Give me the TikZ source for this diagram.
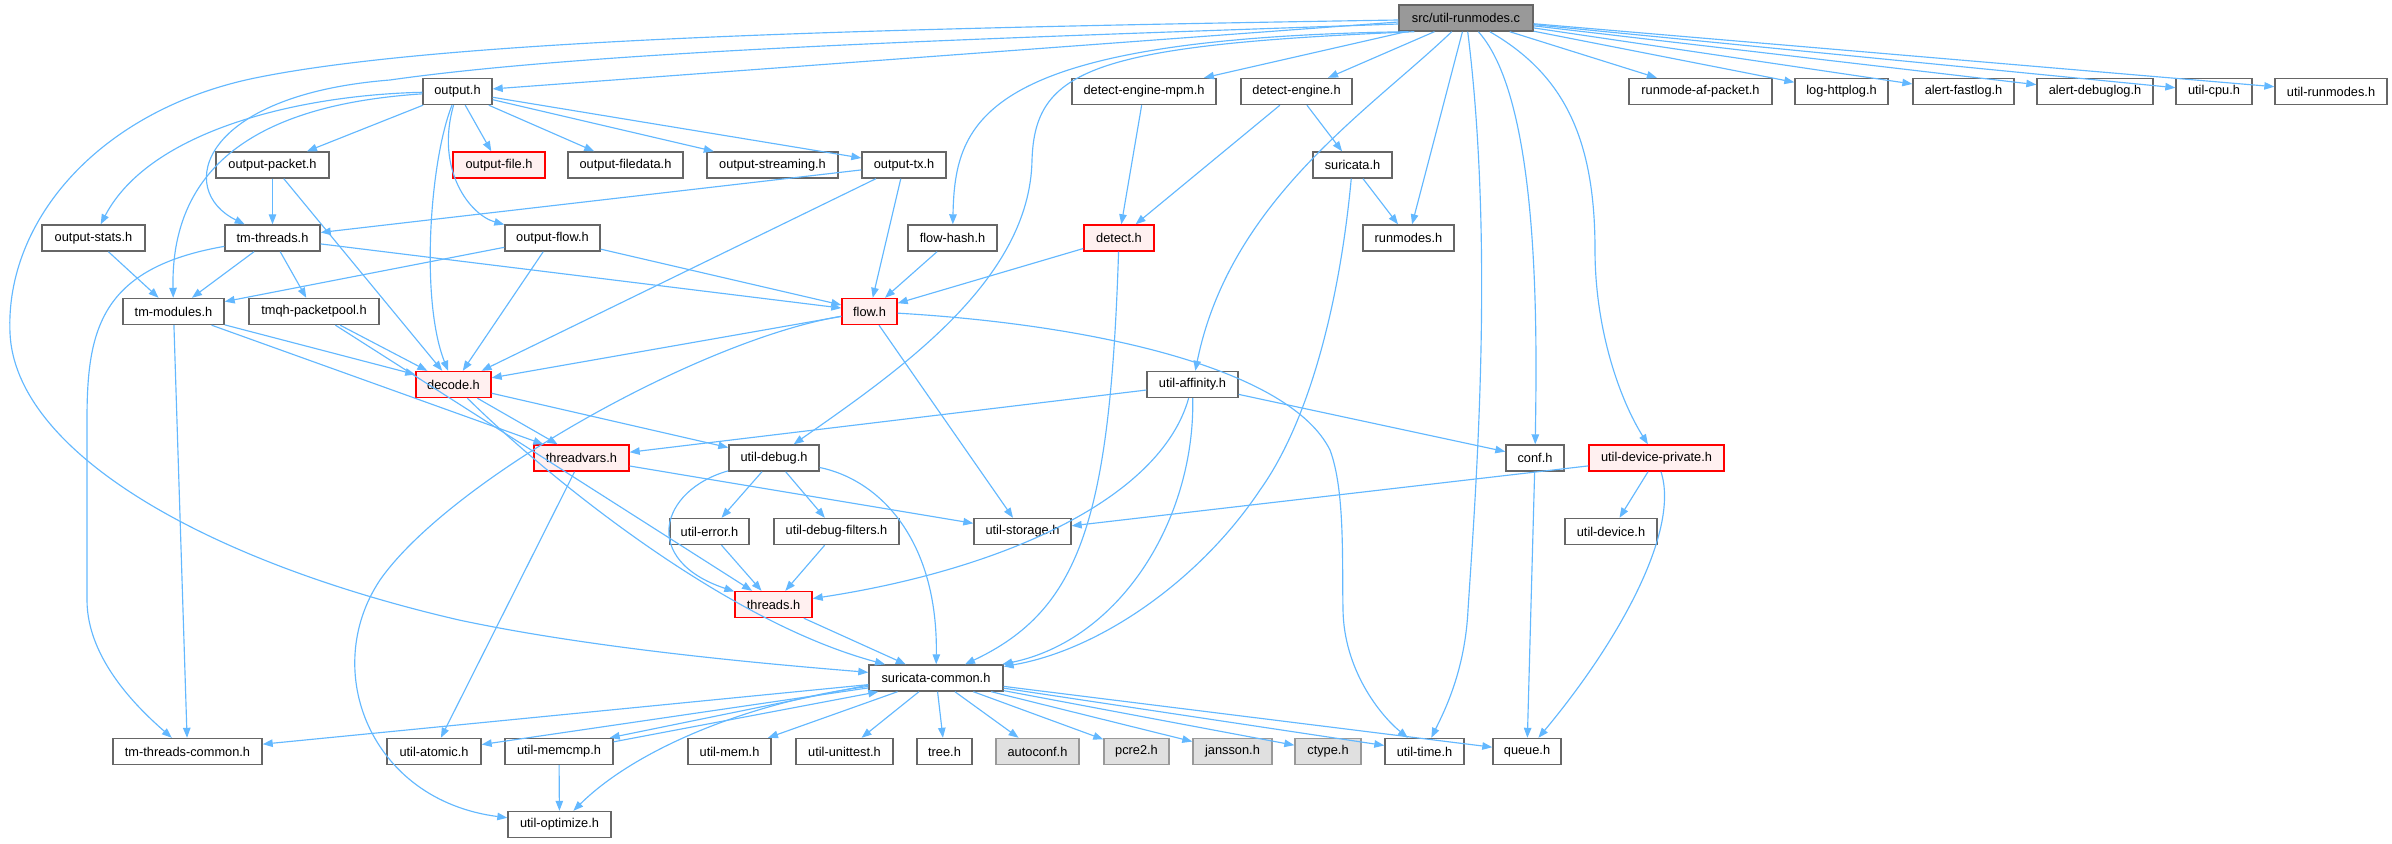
\documentclass[tikz,border=0pt]{standalone}
\usepackage{fontspec}
\setmainfont{Liberation Sans}
\usetikzlibrary{arrows.meta,calc}
\definecolor{edgec}{HTML}{63B8FF}
\definecolor{nbord}{HTML}{666666}
\definecolor{rbord}{HTML}{FF0000}
\definecolor{rfill}{HTML}{FFF0F0}
\definecolor{topfill}{HTML}{999999}
\definecolor{gfill}{HTML}{E0E0E0}
\definecolor{gbord}{HTML}{999999}
\tikzset{
  box/.style={draw=nbord, fill=white, line width=1.4pt, rectangle, inner sep=0pt,
    minimum height=26pt, font=\fontsize{12.8}{14}\selectfont},
  redbox/.style={box, draw=rbord, fill=rfill},
  graybox/.style={box, draw=gbord, fill=gfill},
  topbox/.style={box, fill=topfill},
  e/.style={draw=edgec, line width=1.15pt, -{Triangle[length=10pt,width=7.5pt]}}
}
\begin{document}
\begin{tikzpicture}[x=1pt,y=-1pt]
\useasboundingbox (0,0) rectangle (2392,843);
% row 1
\node[topbox, minimum width=134pt] (src) at (1466,18) {src/util-runmodes.c};
% row 2
\node[box, minimum width=69pt] (output) at (457.5,91.5) {output.h};
\node[box, minimum width=144pt] (dem) at (1144,91.5) {detect-engine-mpm.h};
\node[box, minimum width=111pt] (de) at (1296.5,91.5) {detect-engine.h};
\node[box, minimum width=143pt] (rmafp) at (1700.5,91.5) {runmode-af-packet.h};
\node[box, minimum width=93pt] (lhttp) at (1841.5,91.5) {log-httplog.h};
\node[box, minimum width=101pt] (afast) at (1963.5,91.5) {alert-fastlog.h};
\node[box, minimum width=116pt] (adebug) at (2095,91.5) {alert-debuglog.h};
\node[box, minimum width=76pt] (ucpu) at (2214,91.5) {util-cpu.h};
\node[box, minimum width=112pt] (urunmodes) at (2331,91.5) {util-runmodes.h};
% row 3
\node[box, minimum width=113pt] (opacket) at (272.5,165) {output-packet.h};
\node[redbox, minimum width=92pt] (ofile) at (499,165) {output-file.h};
\node[box, minimum width=115pt] (ofiledata) at (625.5,165) {output-filedata.h};
\node[box, minimum width=131pt] (ostream) at (772.5,165) {output-streaming.h};
\node[box, minimum width=84pt] (otx) at (904,165) {output-tx.h};
\node[box, minimum width=79pt] (suricata) at (1352.5,165) {suricata.h};
% row 4
\node[box, minimum width=103pt] (ostats) at (93.5,238) {output-stats.h};
\node[box, minimum width=95pt] (tmthreads) at (272.5,238) {tm-threads.h};
\node[box, minimum width=95pt] (oflow) at (552.5,238) {output-flow.h};
\node[box, minimum width=89pt] (flowhash) at (952.5,238) {flow-hash.h};
\node[redbox, minimum width=70pt] (detect) at (1119,238) {detect.h};
\node[box, minimum width=91pt] (runmodes) at (1408.5,238) {runmodes.h};
% row 5
\node[box, minimum width=101pt] (tmmod) at (173.5,311.5) {tm-modules.h};
\node[box, minimum width=130pt] (tmqh) at (314,311.5) {tmqh-packetpool.h};
\node[redbox, minimum width=55pt] (flow) at (869.5,311.5) {flow.h};
% row 6
\node[redbox, minimum width=75pt] (decode) at (453.5,384.5) {decode.h};
\node[box, minimum width=91pt] (uaff) at (1192.5,384.5) {util-affinity.h};
% row 7
\node[redbox, minimum width=95pt] (tvars) at (581.5,458) {threadvars.h};
\node[box, minimum width=90pt] (udebug) at (774,458) {util-debug.h};
\node[box, minimum width=58pt] (conf) at (1535,458) {conf.h};
\node[redbox, minimum width=135pt] (udevpriv) at (1656.5,458) {util-device-private.h};
% row 8
\node[box, minimum width=79pt] (uerror) at (709.5,531.5) {util-error.h};
\node[box, minimum width=125pt] (udf) at (836.5,531.5) {util-debug-filters.h};
\node[box, minimum width=97pt] (ustorage) at (1022.5,531.5) {util-storage.h};
\node[box, minimum width=92pt] (udevice) at (1611,531.5) {util-device.h};
% row 9
\node[redbox, minimum width=77pt] (threads) at (773.5,604.5) {threads.h};
% row 10
\node[box, minimum width=134pt] (scommon) at (936,678) {suricata-common.h};
% row 11
\node[box, minimum width=149pt] (tmtc) at (187.5,751.5) {tm-threads-common.h};
\node[box, minimum width=94pt] (uatomic) at (434,751.5) {util-atomic.h};
\node[box, minimum width=108pt] (umemcmp) at (559,751.5) {util-memcmp.h};
\node[box, minimum width=83pt] (umem) at (729.5,751.5) {util-mem.h};
\node[box, minimum width=97pt] (uunit) at (844.5,751.5) {util-unittest.h};
\node[box, minimum width=55pt] (tree) at (944.5,751.5) {tree.h};
\node[graybox, minimum width=83pt] (autoconf) at (1037.5,751.5) {autoconf.h};
\node[graybox, minimum width=65pt] (pcre) at (1136.5,751.5) {pcre2.h};
\node[graybox, minimum width=79pt] (jansson) at (1232.5,751.5) {jansson.h};
\node[graybox, minimum width=66pt] (ctype) at (1328,751.5) {ctype.h};
\node[box, minimum width=79pt] (utime) at (1424.5,751.5) {util-time.h};
\node[box, minimum width=68pt] (queue) at (1527,751.5) {queue.h};
% row 12
\node[box, minimum width=103pt] (uopt) at (559.5,824.5) {util-optimize.h};

% ---- edges from src
\draw[e] ($(src.west)+(0,4)$) -- (output);
\draw[e] ($(src.west)+(0,6)$) .. controls (1000,38) and (600,50) .. (390,80) .. controls (200,95) and (175,190) .. (tmthreads);
\draw[e] ($(src.west)+(0,2)$) .. controls (900,28) and (450,38) .. (255,78) .. controls (100,110) and (5,220) .. (10,333) .. controls (15,450) and (200,560) .. (459,620) .. controls (600,650) and (780,665) .. (scommon);
\draw[e] ($(src.south west)+(10,0)$) .. controls (980,38) and (955,120) .. (flowhash);
\draw[e] ($(src.south west)+(16,0)$) .. controls (1090,45) and (1035,70) .. (1032,160) .. controls (1030,280) and (900,370) .. (udebug);
\draw[e] (src) -- (dem);
\draw[e] (src) -- (de);
\draw[e] (src) .. controls (1370,110) and (1230,200) .. (uaff);
\draw[e] (src) -- (runmodes);
\draw[e] (src) .. controls (1495,250) and (1475,500) .. (1468,610) .. controls (1465,670) and (1445,710) .. (utime);
\draw[e] (src) .. controls (1540,100) and (1537,330) .. (conf);
\draw[e] (src) .. controls (1565,75) and (1595,140) .. (1595,250) .. controls (1595,330) and (1620,400) .. (udevpriv);
\draw[e] (src) -- (rmafp);
\draw[e] (src) -- (lhttp);
\draw[e] (src) -- (afast);
\draw[e] (src) -- (adebug);
\draw[e] (src) -- (ucpu);
\draw[e] (src) -- (urunmodes);
% ---- output.h
\draw[e] (output) .. controls (300,95) and (150,130) .. (ostats);
\draw[e] (output) .. controls (300,102) and (170,140) .. (tmmod);
\draw[e] (output) -- (opacket);
\draw[e] (output) -- (ofile);
\draw[e] (output) -- (ofiledata);
\draw[e] (output) -- (ostream);
\draw[e] (output) -- (otx);
\draw[e] (output) .. controls (430,160) and (420,300) .. (decode);
\draw[e] (output) .. controls (435,170) and (470,215) .. (oflow);
% ---- middle tiers
\draw[e] (opacket) -- (tmthreads);
\draw[e] (opacket) -- (decode);
\draw[e] (otx) -- (tmthreads);
\draw[e] (otx) -- (decode);
\draw[e] (otx) -- (flow);
\draw[e] (oflow) -- (tmmod);
\draw[e] (oflow) -- (decode);
\draw[e] (oflow) -- (flow);
\draw[e] (ostats) -- (tmmod);
\draw[e] (tmthreads) -- (tmmod);
\draw[e] (tmthreads) -- (tmqh);
\draw[e] (tmthreads) -- (flow);
\draw[e] (tmthreads) .. controls (100,268) and (87,330) .. (87,420) -- (87,600) .. controls (87,660) and (140,710) .. (tmtc);
\draw[e] (tmmod) -- (decode);
\draw[e] (tmmod) -- (tvars);
\draw[e] (tmmod) -- (tmtc);
\draw[e] (tmqh) -- (decode);
\draw[e] (tmqh) -- (threads);
\draw[e] (flowhash) -- (flow);
\draw[e] (dem) -- (detect);
\draw[e] (de) -- (detect);
\draw[e] (de) -- (suricata);
\draw[e] (suricata) -- (runmodes);
\draw[e] (suricata) .. controls (1340,300) and (1310,420) .. (1260,490) .. controls (1200,580) and (1100,650) .. (scommon);
\draw[e] (detect) -- (flow);
\draw[e] (detect) .. controls (1110,520) and (1080,610) .. (scommon);
\draw[e] (flow) -- (decode);
\draw[e] (flow) -- (ustorage);
\draw[e] (flow) .. controls (700,340) and (450,480) .. (380,580) .. controls (320,670) and (370,800) .. (uopt);
\draw[e] (flow) .. controls (1100,325) and (1290,370) .. (1330,450) .. controls (1345,490) and (1342,560) .. (1343,610) .. controls (1344,670) and (1380,715) .. (utime);
\draw[e] (decode) -- (tvars);
\draw[e] (decode) -- (udebug);
\draw[e] (decode) .. controls (540,470) and (720,620) .. (scommon);
\draw[e] (tvars) -- (uatomic);
\draw[e] (tvars) -- (ustorage);
\draw[e] (udebug) -- (uerror);
\draw[e] (udebug) -- (udf);
\draw[e] (udebug) .. controls (660,490) and (640,560) .. (threads);
\draw[e] (udebug) .. controls (880,480) and (938,540) .. (scommon);
\draw[e] (uerror) -- (threads);
\draw[e] (udf) -- (threads);
\draw[e] (threads) -- (scommon);
\draw[e] (uaff) -- (tvars);
\draw[e] (uaff) -- (conf);
\draw[e] (uaff) .. controls (1160,500) and (1000,570) .. (threads);
\draw[e] (uaff) .. controls (1195,520) and (1120,640) .. (scommon);
\draw[e] (conf) -- (queue);
\draw[e] (udevpriv) -- (udevice);
\draw[e] (udevpriv) -- (ustorage);
\draw[e] (udevpriv) .. controls (1680,530) and (1620,640) .. (queue);
% ---- suricata-common
\draw[e] (scommon) -- (tmtc);
\draw[e] (scommon) -- (uatomic);
\draw[e] ($(scommon.west)+(0,7)$) -- ($(umemcmp.north east)+(-4,0)$);
\draw[e] ($(umemcmp.north east)+(0,4)$) -- ($(scommon.south west)+(10,0)$);
\draw[e] (scommon) .. controls (760,700) and (640,745) .. (uopt);
\draw[e] (scommon) -- (umem);
\draw[e] (scommon) -- (uunit);
\draw[e] (scommon) -- (tree);
\draw[e] (scommon) -- (autoconf);
\draw[e] (scommon) -- (pcre);
\draw[e] (scommon) -- (jansson);
\draw[e] (scommon) -- (ctype);
\draw[e] (scommon) -- (utime);
\draw[e] (scommon) -- (queue);
\draw[e] (umemcmp) -- (uopt);
\end{tikzpicture}
\end{document}
